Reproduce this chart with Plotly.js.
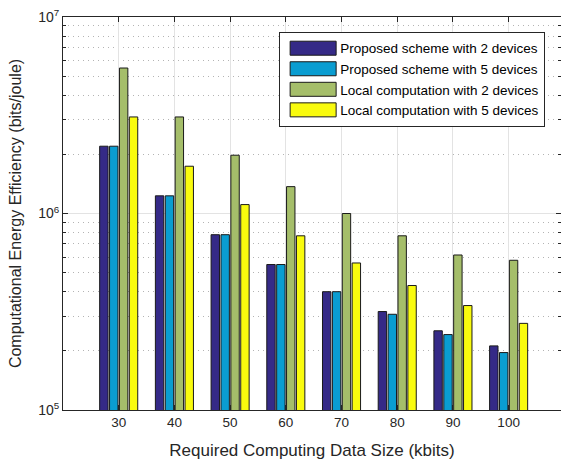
<!DOCTYPE html>
<html>
<head>
<meta charset="utf-8">
<script src="https://cdn.plot.ly/plotly-3.0.1.min.js"></script>
<style>html,body{margin:0;padding:0;background:#fff;}</style>
</head>
<body>
<div id="chart" style="width:561px;height:463px;"></div>
<script>
const dataSizes = [30, 40, 50, 60, 70, 80, 90, 100];
const seriesNames = [
  "Proposed scheme with 2 devices",
  "Proposed scheme with 5 devices",
  "Local computation with 2 devices",
  "Local computation with 5 devices"
];
const proposed2 = [2.2e6, 1.23e6, 7.8e5, 5.5e5, 4.0e5, 3.17e5, 2.53e5, 2.12e5];
const proposed5 = [2.2e6, 1.23e6, 7.8e5, 5.5e5, 4.0e5, 3.07e5, 2.42e5, 1.96e5];
const local2 = [5.5e6, 3.1e6, 1.98e6, 1.37e6, 1.0e6, 7.7e5, 6.15e5, 5.78e5];
const local5 = [3.1e6, 1.74e6, 1.11e6, 7.7e5, 5.6e5, 4.3e5, 3.4e5, 2.76e5];
const yTickVals = [1e5, 1e6, 1e7];
const yTickText = ["10<sup>5</sup>", "10<sup>6</sup>", "10<sup>7</sup>"];
const yMinorVals = [2e5, 3e5, 4e5, 5e5, 6e5, 7e5, 8e5, 9e5, 2e6, 3e6, 4e6, 5e6, 6e6, 7e6, 8e6, 9e6];

const colors = ["#352a87", "#0a9dd1", "#a5be6a", "#f9fb0e"];
const values = [proposed2, proposed5, local2, local5];

const traces = values.map((v, i) => ({
  type: "bar",
  name: seriesNames[i],
  x: dataSizes,
  y: v,
  marker: {color: colors[i], line: {color: "#1a1a1a", width: 1}}
}));

const font = "Liberation Sans, Arial, Helvetica, sans-serif";
const layout = {
  width: 561, height: 463,
  margin: {l: 63, r: 0, t: 17, b: 53},
  paper_bgcolor: "#fff", plot_bgcolor: "#fff",
  font: {family: font, color: "#262626", size: 13.5},
  barmode: "group",
  bargap: 0.29,
  bargroupgap: 0.15,
  showlegend: true,
  legend: {
    x: 0.434, y: 0.962, xanchor: "left", yanchor: "top",
    bgcolor: "#fff", bordercolor: "#262626", borderwidth: 1,
    font: {family: font, size: 13.5, color: "#000"},
    itemwidth: 50,
    tracegroupgap: 0
  },
  xaxis: {
    type: "linear",
    range: [20, 109.4],
    tickvals: dataSizes,
    ticktext: dataSizes.map(String),
    ticks: "inside", ticklen: 5, tickcolor: "#262626",
    showline: true, linecolor: "#262626", linewidth: 1, mirror: "ticks",
    showgrid: true, gridcolor: "#e3e3e3", gridwidth: 1,
    zeroline: false,
    tickfont: {size: 13.5},
    title: {text: "Required Computing Data Size (kbits)", font: {size: 17}, standoff: 14}
  },
  yaxis: {
    type: "log",
    range: [5, 7],
    tickvals: yTickVals,
    ticktext: yTickText,
    ticks: "inside", ticklen: 5, tickcolor: "#262626",
    showline: true, linecolor: "#262626", linewidth: 1, mirror: "ticks",
    showgrid: true, gridcolor: "#e3e3e3", gridwidth: 1,
    zeroline: false,
    tickfont: {size: 14},
    minor: {tickvals: yMinorVals, showgrid: true, griddash: "1px,4px", gridcolor: "#b4b4b4", ticks: "inside", ticklen: 3, tickcolor: "#262626"},
    title: {text: "Computational Energy Efficiency (bits/joule)", font: {size: 16}, standoff: 12}
  }
};

Plotly.newPlot("chart", traces, layout, {displayModeBar: false, staticPlot: true}).then(() => {
  document.querySelectorAll("#chart .legend .legendpoints path").forEach(p => {
    p.setAttribute("d", "M26,7H-20V-7H26Z");
  });
});
</script>
</body>
</html>
